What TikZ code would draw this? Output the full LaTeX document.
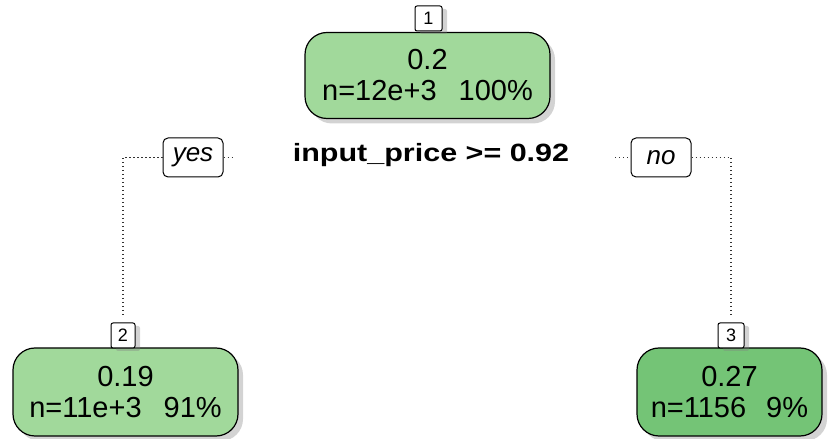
\documentclass[tikz,border=0pt]{standalone}
\usepackage{fontspec}
\setmainfont{Liberation Sans}
\usetikzlibrary{shadows}
\definecolor{leafpale}{RGB}{161,217,155}
\definecolor{leafdeep}{RGB}{116,196,118}
\tikzset{
  treebox/.style={draw=black, line width=1.2pt, rounded corners=22pt,
    minimum height=86pt, inner sep=0pt, align=center,
    font=\fontsize{29}{31}\selectfont,
    drop shadow={shadow xshift=5pt, shadow yshift=-5pt, opacity=0.35, fill=gray}},
  nodeid/.style={draw=black, fill=white, line width=1pt, rounded corners=2pt,
    minimum height=25pt, inner sep=0pt, font=\fontsize{18}{18}\selectfont,
    drop shadow={shadow xshift=5pt, shadow yshift=-3pt, opacity=0.35, fill=gray}},
  branchlabel/.style={draw=black, fill=white, line width=1pt, rounded corners=5pt,
    minimum width=60pt, minimum height=39pt, inner sep=0pt,
    font=\fontsize{26}{26}\selectfont\itshape},
  dotline/.style={draw=black!80, line width=1.3pt, dash pattern=on 1.3pt off 2.7pt}
}
\begin{document}
\begin{tikzpicture}[x=1pt, y=1pt]
  \useasboundingbox (0,0) rectangle (830,439);

  % root split
  \node[treebox, fill=leafpale, minimum width=245pt] (n1) at (427.5,363.5)
    {0.2\\n=12e+3\hspace{22pt}100\%};
  \node[nodeid, minimum width=27pt] (l1) at (428.5,420.5) {1};

  % split rule and branch labels
  \node[anchor=base, font=\fontsize{25}{25}\selectfont\bfseries] (rule) at (431,277)
    {\scalebox{1.22}[1]{input\_price >= 0.92}};
  \node[branchlabel] (yes) at (193,281.5) {yes};
  \node[branchlabel] (no) at (661,281.5) {no};

  % leaves
  \node[treebox, fill=leafpale, minimum width=225pt, minimum height=88pt] (n2) at (125.5,47)
    {0.19\\n=11e+3\hspace{22pt}91\%};
  \node[nodeid, minimum width=24pt] (l2) at (123,103.5) {2};
  \node[treebox, fill=leafdeep, minimum width=185pt, minimum height=88pt] (n3) at (729.5,47)
    {0.27\\n=1156\hspace{20pt}9\%};
  \node[nodeid, minimum width=26pt] (l3) at (731,103.5) {3};

  % connectors
  \coordinate (ystub) at (233,281.5);
  \coordinate (nstub) at (615,281.5);
  \draw[dotline] (yes.west) -| ([yshift=7pt]l2.north);
  \draw[dotline] (yes.east) -- (ystub);
  \draw[dotline] (no.east) -| ([yshift=7pt]l3.north);
  \draw[dotline] (nstub) -- (no.west);
\end{tikzpicture}
\end{document}
